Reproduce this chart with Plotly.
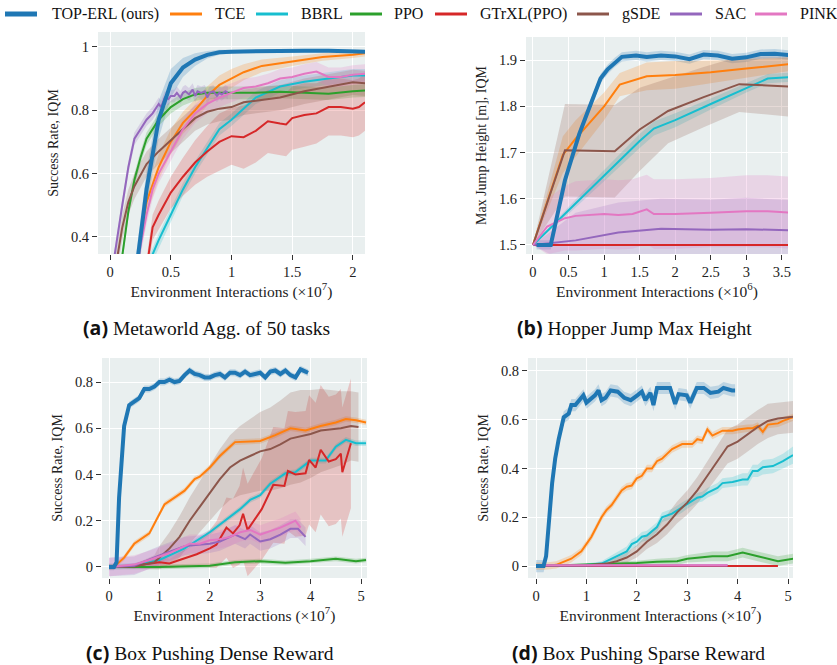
import numpy as np
import plotly.graph_objects as go

METHODS = ["TOP-ERL (ours)", "TCE", "BBRL", "PPO", "GTrXL(PPO)", "gSDE", "SAC", "PINK"]
COLORS = ["#1f77b4", "#ff7f0e", "#17becf", "#2ca02c", "#d62728", "#8c564b", "#9467bd", "#e377c2"]

# ---------------- (a) Metaworld (x in 1e7) ----------------
A_X = {
    "TOP-ERL (ours)": [0, 0.1, 0.2, 0.3, 0.4, 0.5, 0.6, 0.7, 0.8, 0.9, 1.0, 1.2, 1.4, 1.6, 1.8, 2.0, 2.1],
    "TCE": [0.2, 0.25, 0.3, 0.4, 0.5, 0.6, 0.7, 0.8, 0.9, 1.0, 1.1, 1.25, 1.5, 1.75, 2.0, 2.1],
    "BBRL": [0.3, 0.4, 0.5, 0.6, 0.7, 0.8, 0.9, 1.0, 1.2, 1.4, 1.6, 1.8, 2.0, 2.1],
    "PPO": [0.05, 0.1, 0.15, 0.2, 0.25, 0.3, 0.4, 0.5, 0.6, 0.7, 0.8, 1.0, 1.2, 1.4, 1.6, 1.8, 2.0, 2.1],
    "GTrXL(PPO)": [0.3, 0.35, 0.4, 0.5, 0.6, 0.7, 0.8, 0.9, 1.0, 1.1, 1.2, 1.3, 1.4, 1.45, 1.5, 1.6, 1.7, 1.8, 1.9, 2.0, 2.05, 2.1],
    "gSDE": [0, 0.05, 0.1, 0.15, 0.2, 0.3, 0.4, 0.5, 0.6, 0.7, 0.8, 0.9, 1.0, 1.1, 1.2, 1.4, 1.6, 1.8, 2.0, 2.1],
    "SAC": [0, 0.05, 0.1, 0.15, 0.2, 0.25, 0.3, 0.35, 0.4, 0.42, 0.45, 0.48, 0.5, 0.53, 0.55, 0.58, 0.6, 0.62,
            0.65, 0.68, 0.7, 0.72, 0.75, 0.78, 0.8, 0.82, 0.85, 0.88, 0.9, 0.92, 0.95, 0.97],
    "PINK": [0.2, 0.25, 0.3, 0.35, 0.4, 0.5, 0.6, 0.7, 0.8, 0.9, 1.0, 1.1, 1.2, 1.3, 1.4, 1.5, 1.6, 1.7, 1.8, 1.9, 2.0, 2.1],
}
A_Y = {
    "TOP-ERL (ours)": [0, 0.05, 0.25, 0.55, 0.77, 0.885, 0.935, 0.96, 0.975, 0.983, 0.985, 0.987, 0.988, 0.988, 0.988, 0.987, 0.985],
    "TCE": [0.2, 0.4, 0.51, 0.62, 0.7, 0.76, 0.8, 0.845, 0.88, 0.9, 0.92, 0.94, 0.955, 0.968, 0.975, 0.98],
    "BBRL": [0.3, 0.39, 0.47, 0.55, 0.62, 0.68, 0.74, 0.77, 0.84, 0.875, 0.89, 0.9, 0.91, 0.91],
    "PPO": [0.2, 0.34, 0.48, 0.58, 0.65, 0.71, 0.77, 0.81, 0.835, 0.85, 0.855, 0.855, 0.855, 0.858, 0.855, 0.852, 0.86, 0.862],
    "GTrXL(PPO)": [0.3, 0.43, 0.47, 0.54, 0.59, 0.635, 0.67, 0.7, 0.718, 0.715, 0.735, 0.765, 0.758, 0.755, 0.775, 0.785,
                   0.79, 0.81, 0.81, 0.805, 0.81, 0.825],
    "gSDE": [0.2, 0.32, 0.43, 0.51, 0.56, 0.63, 0.67, 0.705, 0.74, 0.775, 0.795, 0.805, 0.81, 0.825, 0.83, 0.84, 0.86, 0.875, 0.888, 0.885],
    "SAC": [0.25, 0.38, 0.5, 0.62, 0.71, 0.74, 0.77, 0.79, 0.82, 0.81, 0.84, 0.835, 0.845, 0.845, 0.855, 0.84, 0.855, 0.86,
            0.85, 0.865, 0.845, 0.86, 0.855, 0.86, 0.84, 0.855, 0.86, 0.845, 0.855, 0.85, 0.86, 0.855],
    "PINK": [0.25, 0.37, 0.47, 0.55, 0.6, 0.67, 0.74, 0.79, 0.82, 0.84, 0.855, 0.87, 0.875, 0.885, 0.9, 0.905, 0.915, 0.922,
             0.905, 0.905, 0.912, 0.915],
}
A_E = {
    "TOP-ERL (ours)": [0.02, 0.03, 0.05, 0.06, 0.06, 0.045, 0.03, 0.02, 0.012, 0.008, 0.006, 0.005, 0.005, 0.005, 0.005, 0.005, 0.005],
    "TCE": [0.03, 0.04, 0.04, 0.04, 0.04, 0.035, 0.035, 0.03, 0.03, 0.03, 0.025, 0.02, 0.015, 0.012, 0.01, 0.01],
    "BBRL": 0.02,
    "PPO": 0.02,
    "GTrXL(PPO)": [0.03, 0.04, 0.045, 0.05, 0.06, 0.07, 0.08, 0.09, 0.09, 0.1, 0.1, 0.1, 0.1, 0.1, 0.1, 0.1, 0.095, 0.09, 0.09,
                   0.09, 0.09, 0.09],
    "gSDE": 0.04,
    "SAC": 0.02,
    "PINK": 0.03,
}

# ---------------- (b) Hopper Jump (x in 1e6) ----------------
B_X = {
    "TOP-ERL (ours)": [0.05, 0.25, 0.35, 0.45, 0.55, 0.65, 0.75, 0.85, 0.95, 1.05, 1.15, 1.25, 1.45, 1.6, 1.8, 2.0, 2.2, 2.4,
                       2.6, 2.8, 3.0, 3.2, 3.4, 3.6],
    "TCE": [0, 0.42, 0.6, 0.8, 1.0, 1.22, 1.6, 2.0, 2.5, 3.0, 3.6],
    "BBRL": [0, 0.5, 1.0, 1.5, 1.7, 2.0, 2.5, 3.0, 3.3, 3.6],
    "PPO": [0, 3.6],
    "GTrXL(PPO)": [0, 3.6],
    "gSDE": [0, 0.45, 1.15, 1.5, 1.9, 2.4, 2.9, 3.6],
    "SAC": [0, 0.6, 1.2, 1.8, 2.5, 3.0, 3.6],
    "PINK": [0, 0.2, 0.45, 0.6, 1.0, 1.2, 1.4, 1.6, 1.7, 2.0, 2.5, 3.0, 3.3, 3.6],
}
B_Y = {
    "TOP-ERL (ours)": [1.5, 1.5, 1.57, 1.64, 1.69, 1.74, 1.78, 1.82, 1.86, 1.88, 1.895, 1.907, 1.91, 1.907, 1.91, 1.908,
                       1.902, 1.912, 1.91, 1.903, 1.906, 1.913, 1.914, 1.911],
    "TCE": [1.5, 1.695, 1.73, 1.765, 1.8, 1.847, 1.865, 1.868, 1.874, 1.882, 1.891],
    "BBRL": [1.5, 1.575, 1.65, 1.725, 1.752, 1.77, 1.805, 1.84, 1.86, 1.863],
    "PPO": [1.5, 1.5],
    "GTrXL(PPO)": [1.5, 1.5],
    "gSDE": [1.5, 1.705, 1.703, 1.75, 1.79, 1.82, 1.848, 1.843],
    "SAC": [1.5, 1.51, 1.527, 1.535, 1.533, 1.534, 1.532],
    "PINK": [1.5, 1.54, 1.558, 1.563, 1.567, 1.565, 1.567, 1.577, 1.567, 1.567, 1.57, 1.573, 1.573, 1.57],
}
B_E = {
    "TOP-ERL (ours)": 0.01,
    "TCE": [0, 0.04, 0.04, 0.035, 0.03, 0.025, 0.03, 0.03, 0.025, 0.02, 0.015],
    "BBRL": [0, 0.008, 0.012, 0.015, 0.015, 0.015, 0.012, 0.01, 0.01, 0.01],
    "PPO": 0.0,
    "GTrXL(PPO)": 0.002,
    "gSDE": [0, 0.1, 0.1, 0.09, 0.07, 0.065, 0.06, 0.065],
    "SAC": [0, 0.06, 0.065, 0.065, 0.065, 0.068, 0.065],
    "PINK": [0, 0.06, 0.07, 0.075, 0.075, 0.075, 0.075, 0.075, 0.075, 0.075, 0.075, 0.078, 0.078, 0.078],
}

# ---------------- (c) Box Pushing Dense (x in 1e7) ----------------
C_X = {
    "TOP-ERL (ours)": [0, 0.1, 0.15, 0.2, 0.3, 0.4, 0.5, 0.6, 0.7, 0.8, 0.9, 1.0, 1.1, 1.2, 1.3, 1.4, 1.5, 1.6, 1.7, 1.8,
                       1.9, 2.0, 2.1, 2.2, 2.3, 2.4, 2.5, 2.6, 2.7, 2.8, 2.9, 3.0, 3.1, 3.2, 3.3, 3.4, 3.5, 3.6, 3.7,
                       3.8, 3.9, 3.95],
    "TCE": [0, 0.1, 0.3, 0.5, 0.8, 1.0, 1.1, 1.3, 1.5, 1.7, 1.8, 2.0, 2.2, 2.4, 2.5, 3.0, 3.3, 3.6, 3.9, 4.2, 4.5, 4.7, 4.9, 5.1],
    "BBRL": [0, 0.5, 1.0, 1.5, 2.0, 2.3, 2.6, 2.8, 3.0, 3.2, 3.5, 3.7, 4.0, 4.3, 4.5, 4.7, 4.9, 5.1],
    "PPO": [0, 1.0, 2.0, 2.5, 3.0, 3.5, 4.0, 4.5, 4.9, 5.1],
    "GTrXL(PPO)": [0, 0.5, 1.0, 1.2, 1.4, 1.74, 2.0, 2.13, 2.33, 2.46, 2.59, 2.66, 2.75, 3.03, 3.26, 3.48, 3.55, 3.7, 3.9,
                   3.97, 4.1, 4.2, 4.36, 4.5, 4.6, 4.63, 4.8],
    "gSDE": [0, 0.5, 0.9, 1.0, 1.2, 1.4, 1.6, 1.8, 2.0, 2.2, 2.4, 2.6, 2.8, 3.0, 3.2, 3.4, 3.6, 3.8, 4.0, 4.2, 4.4, 4.6, 4.8, 4.95],
    "SAC": [0, 0.5, 1.0, 1.5, 2.0, 2.2, 2.5, 2.7, 2.8, 3.0, 3.2, 3.4, 3.6, 3.75, 3.9],
    "PINK": [0, 0.5, 0.8, 1.2, 1.6, 1.8, 2.0, 2.2, 2.4, 2.6, 2.8, 3.0, 3.2, 3.4, 3.6, 3.7, 3.8],
}
C_Y = {
    "TOP-ERL (ours)": [0, 0, 0.02, 0.3, 0.61, 0.7, 0.715, 0.73, 0.77, 0.77, 0.78, 0.8, 0.8, 0.81, 0.8, 0.805, 0.83, 0.85,
                       0.835, 0.83, 0.82, 0.82, 0.83, 0.835, 0.82, 0.84, 0.84, 0.83, 0.845, 0.83, 0.835, 0.84, 0.82,
                       0.845, 0.85, 0.835, 0.85, 0.83, 0.82, 0.855, 0.845, 0.84],
    "TCE": [0, 0, 0.04, 0.1, 0.145, 0.23, 0.27, 0.3, 0.33, 0.38, 0.39, 0.43, 0.48, 0.52, 0.54, 0.545, 0.57, 0.6, 0.59,
            0.61, 0.625, 0.64, 0.635, 0.625],
    "BBRL": [0, 0.005, 0.03, 0.08, 0.15, 0.2, 0.25, 0.29, 0.31, 0.36, 0.405, 0.41, 0.46, 0.46, 0.52, 0.55, 0.535, 0.535],
    "PPO": [0, 0, 0.005, 0.02, 0.025, 0.018, 0.025, 0.035, 0.025, 0.03],
    "GTrXL(PPO)": [0, 0.005, 0.02, 0.015, 0.03, 0.055, 0.08, 0.096, 0.17, 0.145, 0.18, 0.23, 0.16, 0.25, 0.355, 0.35,
                   0.415, 0.4, 0.405, 0.463, 0.43, 0.507, 0.456, 0.466, 0.49, 0.41, 0.535],
    "gSDE": [0, 0.002, 0.02, 0.04, 0.08, 0.13, 0.2, 0.26, 0.32, 0.38, 0.43, 0.46, 0.48, 0.5, 0.51, 0.53, 0.555, 0.565,
             0.575, 0.59, 0.595, 0.6, 0.61, 0.605],
    "SAC": [0, 0.005, 0.05, 0.09, 0.1, 0.11, 0.14, 0.12, 0.14, 0.11, 0.12, 0.14, 0.165, 0.165, 0.13],
    "PINK": [0, 0.01, 0.03, 0.06, 0.1, 0.1, 0.115, 0.12, 0.13, 0.15, 0.16, 0.14, 0.155, 0.17, 0.19, 0.2, 0.17],
}
C_E = {
    "TOP-ERL (ours)": 0.015,
    "TCE": 0.012,
    "BBRL": 0.012,
    "PPO": 0.01,
    "GTrXL(PPO)": [0, 0.01, 0.02, 0.02, 0.03, 0.05, 0.08, 0.1, 0.13, 0.15, 0.17, 0.2, 0.2, 0.22, 0.25, 0.25, 0.26, 0.27,
                   0.27, 0.28, 0.28, 0.28, 0.28, 0.28, 0.28, 0.28, 0.28],
    "gSDE": [0, 0.01, 0.03, 0.05, 0.07, 0.09, 0.1, 0.11, 0.12, 0.13, 0.14, 0.15, 0.16, 0.17, 0.18, 0.19, 0.2, 0.2, 0.19,
             0.18, 0.17, 0.16, 0.15, 0.15],
    "SAC": 0.04,
    "PINK": 0.04,
}

# ---------------- (d) Box Pushing Sparse (x in 1e7) ----------------
D_X = {
    "TOP-ERL (ours)": [0, 0.15, 0.2, 0.32, 0.38, 0.45, 0.55, 0.65, 0.7, 0.78, 0.94, 1.0, 1.17, 1.24, 1.3, 1.38, 1.48,
                       1.62, 1.75, 1.88, 2.01, 2.1, 2.17, 2.27, 2.33, 2.4, 2.66, 2.76, 2.83, 2.99, 3.06, 3.19, 3.33,
                       3.46, 3.62, 3.72, 3.89, 3.95],
    "TCE": [0, 0.2, 0.4, 0.6, 0.7, 0.9, 1.0, 1.1, 1.2, 1.3, 1.4, 1.5, 1.6, 1.7, 1.8, 1.9, 2.0, 2.1, 2.2, 2.3, 2.4, 2.5,
            2.6, 2.7, 2.9, 3.1, 3.2, 3.3, 3.4, 3.5, 3.6, 3.7, 3.9, 4.0, 4.2, 4.3, 4.4, 4.5, 4.6, 4.8, 4.9, 5.1],
    "BBRL": [0, 1.0, 1.3, 1.6, 1.8, 1.9, 2.0, 2.1, 2.2, 2.4, 2.5, 2.7, 2.9, 3.0, 3.2, 3.3, 3.4, 3.6, 3.7, 3.9, 4.1, 4.2,
             4.3, 4.4, 4.5, 4.7, 4.9, 5.1],
    "PPO": [0, 1.0, 1.5, 2.0, 2.4, 2.8, 3.0, 3.5, 3.8, 4.1, 4.4, 4.8, 5.1],
    "GTrXL(PPO)": [0, 4.8],
    "gSDE": [0, 1.0, 1.4, 1.6, 1.8, 2.0, 2.2, 2.4, 2.6, 2.8, 3.0, 3.2, 3.4, 3.6, 3.8, 4.0, 4.2, 4.4, 4.6, 4.8, 5.1],
    "SAC": [0, 3.8],
    "PINK": [0, 1.0, 2.0, 3.0, 3.8],
}
D_Y = {
    "TOP-ERL (ours)": [0, 0, 0.04, 0.34, 0.44, 0.52, 0.61, 0.625, 0.66, 0.66, 0.7, 0.67, 0.7, 0.72, 0.68, 0.69, 0.72,
                       0.715, 0.69, 0.68, 0.7, 0.715, 0.68, 0.71, 0.66, 0.73, 0.73, 0.665, 0.705, 0.7, 0.67, 0.73,
                       0.73, 0.71, 0.715, 0.73, 0.72, 0.72],
    "TCE": [0, 0, 0.005, 0.02, 0.03, 0.06, 0.09, 0.12, 0.16, 0.2, 0.23, 0.25, 0.28, 0.31, 0.325, 0.33, 0.36, 0.37, 0.4,
            0.4, 0.43, 0.44, 0.46, 0.48, 0.5, 0.5, 0.52, 0.515, 0.56, 0.535, 0.545, 0.555, 0.555, 0.56, 0.565, 0.565,
            0.575, 0.55, 0.58, 0.585, 0.595, 0.61],
    "BBRL": [0, 0.005, 0.01, 0.04, 0.06, 0.09, 0.1, 0.12, 0.125, 0.16, 0.2, 0.215, 0.24, 0.255, 0.28, 0.285, 0.3, 0.32,
             0.34, 0.345, 0.355, 0.355, 0.39, 0.39, 0.405, 0.41, 0.43, 0.455],
    "PPO": [0, 0.005, 0.01, 0.012, 0.018, 0.02, 0.03, 0.04, 0.04, 0.055, 0.04, 0.02, 0.03],
    "GTrXL(PPO)": [0, 0],
    "gSDE": [0, 0.002, 0.01, 0.02, 0.035, 0.06, 0.1, 0.13, 0.17, 0.22, 0.26, 0.31, 0.37, 0.43, 0.49, 0.51, 0.54, 0.57,
             0.595, 0.605, 0.612],
    "SAC": [0.002, 0.002],
    "PINK": [0.003, 0.004, 0.005, 0.003, 0.003],
}
D_E = {
    "TOP-ERL (ours)": 0.025,
    "TCE": 0.015,
    "BBRL": [0, 0.005, 0.01, 0.015, 0.02, 0.02, 0.02, 0.02, 0.02, 0.02, 0.02, 0.02, 0.02, 0.02, 0.02, 0.02, 0.02, 0.02,
             0.02, 0.02, 0.025, 0.025, 0.025, 0.025, 0.03, 0.03, 0.03, 0.035],
    "PPO": [0, 0.005, 0.008, 0.01, 0.012, 0.015, 0.015, 0.02, 0.02, 0.02, 0.02, 0.02, 0.02],
    "GTrXL(PPO)": 0.002,
    "gSDE": [0, 0.002, 0.01, 0.015, 0.02, 0.025, 0.03, 0.035, 0.04, 0.045, 0.05, 0.055, 0.06, 0.065, 0.07, 0.07, 0.07,
             0.07, 0.07, 0.065, 0.065],
    "SAC": 0.003,
    "PINK": 0.004,
}

PANELS = [(A_X, A_Y, A_E), (B_X, B_Y, B_E), (C_X, C_Y, C_E), (D_X, D_Y, D_E)]

X_RANGES = [[-0.1, 2.1], [-0.098, 3.586], [-0.139, 5.119], [-0.159, 5.099]]
Y_RANGES = [[0.346, 1.047], [1.4805, 1.95], [-0.048, 0.904], [-0.049, 0.853]]
X_TICKS = [[0, 0.5, 1, 1.5, 2], [0, 0.5, 1, 1.5, 2, 2.5, 3, 3.5], [0, 1, 2, 3, 4, 5], [0, 1, 2, 3, 4, 5]]
X_TICKTEXT = [["0", "0.5", "1", "1.5", "2"], ["0", "0.5", "1", "1.5", "2", "2.5", "3", "3.5"],
              ["0", "1", "2", "3", "4", "5"], ["0", "1", "2", "3", "4", "5"]]
Y_TICKS = [[0.4, 0.6, 0.8, 1.0], [1.5, 1.6, 1.7, 1.8, 1.9], [0, 0.2, 0.4, 0.6, 0.8], [0, 0.2, 0.4, 0.6, 0.8]]
Y_TICKTEXT = [["0.4", "0.6", "0.8", "1"], ["1.5", "1.6", "1.7", "1.8", "1.9"],
              ["0", "0.2", "0.4", "0.6", "0.8"], ["0", "0.2", "0.4", "0.6", "0.8"]]
X_TITLES = ["Environment Interactions (×10<sup>7</sup>)", "Environment Interactions (×10<sup>6</sup>)",
            "Environment Interactions (×10<sup>7</sup>)", "Environment Interactions (×10<sup>7</sup>)"]
Y_TITLES = ["Success Rate, IQM", "Max Jump Height [m], IQM", "Success Rate, IQM", "Success Rate, IQM"]
CAPTION_TAGS = ["(a)", "(b)", "(c)", "(d)"]
CAPTIONS = ["Metaworld Agg. of 50 tasks", "Hopper Jump Max Height", "Box Pushing Dense Reward", "Box Pushing Sparse Reward"]

W, H = 837, 665
# plot areas in pixels (left, right, top, bottom)
BOXES = [(98, 365, 32, 254), (526, 788, 37, 254), (102, 367, 358, 578), (528, 793, 358, 578)]
CAPTION_POS = [(206, 327), (634, 327), (210, 652), (638, 652)]
# legend layout (pixels): symbol start, text start
LEG_SYM_X = [5, 170, 256, 350, 435, 577, 670, 755]
LEG_TXT_X = [50, 213, 299, 392, 478, 620, 713, 798]
LEG_Y = 14

SERIF = "Liberation Serif"
BG = "#e9efef"


def rgba(hexc, a):
    h = hexc.lstrip("#")
    r, g, b = int(h[0:2], 16), int(h[2:4], 16), int(h[4:6], 16)
    return f"rgba({r},{g},{b},{a})"


fig = go.Figure()

for p, (PX, PY, PE) in enumerate(PANELS):
    xa = "x" if p == 0 else f"x{p + 1}"
    ya = "y" if p == 0 else f"y{p + 1}"
    # bands first
    for m, col in zip(METHODS, COLORS):
        x = np.array(PX[m], float)
        y = np.array(PY[m], float)
        e = np.broadcast_to(np.array(PE[m], float), y.shape)
        if np.all(e == 0):
            continue
        fig.add_trace(go.Scatter(
            x=np.concatenate([x, x[::-1]]), y=np.concatenate([y + e, (y - e)[::-1]]),
            fill="toself", fillcolor=rgba(col, 0.22), line=dict(width=0), mode="lines",
            hoverinfo="skip", showlegend=False, xaxis=xa, yaxis=ya))
    # lines (TOP-ERL drawn last so it stays on top)
    order = list(range(1, len(METHODS))) + [0]
    for i in order:
        m, col = METHODS[i], COLORS[i]
        fig.add_trace(go.Scatter(
            x=PX[m], y=PY[m], mode="lines", name=m,
            line=dict(color=col, width=4 if i == 0 else 2),
            showlegend=False, xaxis=xa, yaxis=ya))

layout = dict(
    width=W, height=H, margin=dict(l=0, r=0, t=0, b=0, autoexpand=False),
    paper_bgcolor="white", plot_bgcolor=BG,
    font=dict(family=SERIF, size=14, color="#222"),
    showlegend=False,
)
annotations = []
shapes = []
for p in range(4):
    l, r, t, b = BOXES[p]
    sfx = "" if p == 0 else str(p + 1)
    layout["xaxis" + sfx] = dict(
        domain=[l / W, r / W], anchor="y" + sfx, range=X_RANGES[p], automargin=False,
        tickvals=X_TICKS[p], ticktext=X_TICKTEXT[p], ticks="outside", ticklen=5, tickwidth=1,
        tickcolor="#333", showgrid=True, gridcolor="white", gridwidth=1.3, zeroline=False,
        showline=False, tickfont=dict(family=SERIF, size=14.5, color="#222"),
        title=dict(text=X_TITLES[p], font=dict(family=SERIF, size=15.5, color="#222"), standoff=3))
    layout["yaxis" + sfx] = dict(
        domain=[1 - b / H, 1 - t / H], anchor="x" + sfx, range=Y_RANGES[p], automargin=False,
        tickvals=Y_TICKS[p], ticktext=Y_TICKTEXT[p], ticks="outside", ticklen=5, tickwidth=1,
        tickcolor="#333", showgrid=True, gridcolor="white", gridwidth=1.3, zeroline=False,
        showline=False, tickfont=dict(family=SERIF, size=14.5, color="#222"),
        title=dict(text=Y_TITLES[p], font=dict(family=SERIF, size=14, color="#222"), standoff=9))
    cx, cy = CAPTION_POS[p]
    annotations.append(dict(
        xref="paper", yref="paper", x=cx / W, y=1 - cy / H, xanchor="center", yanchor="middle",
        showarrow=False,
        text=f"<span style='font-family:Open Sans'><b>{CAPTION_TAGS[p]}</b></span> {CAPTIONS[p]}",
        font=dict(family=SERIF, size=19.5, color="#111")))

# legend row (drawn in paper coordinates)
for i, (m, col) in enumerate(zip(METHODS, COLORS)):
    sx = LEG_SYM_X[i]
    shapes.append(dict(type="line", xref="paper", yref="paper",
                       x0=sx / W, x1=(sx + 32) / W, y0=1 - LEG_Y / H, y1=1 - LEG_Y / H,
                       line=dict(color=col, width=5 if i == 0 else 3)))
    annotations.append(dict(xref="paper", yref="paper", x=LEG_TXT_X[i] / W, y=1 - LEG_Y / H,
                            xanchor="left", yanchor="middle", showarrow=False, text=m,
                            font=dict(family=SERIF, size=16, color="#111")))

layout["annotations"] = annotations
layout["shapes"] = shapes
fig.update_layout(**layout)

fig.write_html("out.html", config={"displayModeBar": False},
               post_script="document.body.style.margin='0px';document.body.style.overflow='hidden';")
